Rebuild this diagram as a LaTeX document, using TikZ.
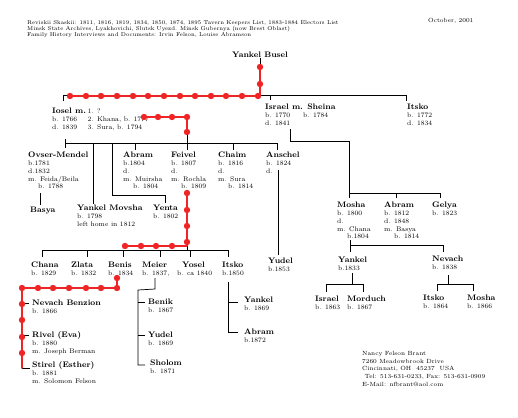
\documentclass[tikz,border=0pt]{standalone}
\usepackage{tikz}
\definecolor{redpath}{RGB}{240,36,36}
\newcommand{\ptopstrut}{\rule{0pt}{6.5pt}}
\newcommand{\pname}[1]{\ptopstrut{\fontsize{8}{7.8}\selectfont\bfseries #1}}
\newcommand{\ind}{\hspace*{10pt}}
\begin{document}
\begin{tikzpicture}[x=1pt,y=-1pt,
  person/.style={anchor=north west, inner sep=0pt, align=left, font=\fontsize{6.7}{7.8}\selectfont},
  small/.style={anchor=north west, inner sep=0pt, align=left, font=\fontsize{6}{6.1}\selectfont},
  tree/.style={line width=0.7pt, black},
  redline/.style={line width=1.6pt, redpath, line cap=round, line join=round},
]
\useasboundingbox (0,0) rectangle (518,417);
\fill[white] (0,0) rectangle (518,417);

% header
\node[small, font=\fontsize{5.6}{6.1}\selectfont] (hdr) at (27,19) {\rule{0pt}{5pt}Reviskii Skaskii: 1811, 1816, 1819, 1834, 1850, 1874, 1895 Tavern Keepers List, 1883-1884 Electors List\\
Minsk State Archives, Lyakhovichi, Slutsk Uyezd. Minsk Gubernya (now Brest Oblast)\\
Family History Interviews and Documents: Irvin Felson, Louise Abramson};
\node[small] (date) at (428,17) {\rule{0pt}{5pt}October, 2001};
\node[small, font=\fontsize{6}{7.8}\selectfont] (addr) at (362,350) {\rule{0pt}{5pt}Nancy Felson Brant\\
7260 Meadowbrook Drive\\
Cincinnati, OH\ \ 45237\ \ USA\\
\ Tel: 513-631-0233, Fax: 513-631-0909\\
E-Mail: nfbrant@aol.com};

% generation 1
\node[person, anchor=north] (busel) at (260,51) {\pname{Yankel Busel}};

% generation 2
\node[person] (iosel) at (52,107) {\pname{Iosel m.}\\ b. 1766\\ d. 1839};
\node[person] (ioselw) at (87.5,107) {\ptopstrut 1. ?\\ 2. Khana, b. 1777\\ 3. Sura, b. 1794};
\node[person] (israel) at (265,103) {\pname{Israel m. Sheina}\\ b. 1770\\ d. 1841};
\node[person] (sheina) at (303,103) {\ptopstrut\\ b. 1784};
\node[person] (itskoa) at (407,103) {\pname{Itsko}\\ b. 1772\\ d. 1834};

% generation 3
\node[person] (ovser) at (28,151) {\pname{Ovser-Mendel}\\ b.1781\\ d.1832\\ m. Feida/Beila\\ \ind b. 1788};
\node[person] (basya) at (30,206) {\pname{Basya}};
\node[person] (yankelm) at (77,204) {\pname{Yankel Movsha}\\ b. 1798\\ left home in 1812};
\node[person] (yenta) at (153,204) {\pname{Yenta}\\ b. 1802};
\node[person] (abrama) at (123,151) {\pname{Abram}\\ b.1804\\ d.\\ m. Muirsha\\ \ind b. 1804};
\node[person] (feivel) at (171,151) {\pname{Feivel}\\ b. 1807\\ d.\\ m. Rochla\\ \ind b. 1809};
\node[person] (chaim) at (218,151) {\pname{Chaim}\\ b. 1816\\ d.\\ m. Sura\\ \ind b. 1814};
\node[person] (anschel) at (266,151) {\pname{Anschel}\\ b. 1824\\ d.};
\node[person] (moshaa) at (337,201) {\pname{Mosha}\\ b. 1800\\ d.\\ m. Chana\\ \ind b.1804};
\node[person] (abramb) at (384,201) {\pname{Abram}\\ b. 1812\\ d. 1848\\ m. Basya\\ \ind b. 1814};
\node[person] (gelya) at (432,201) {\pname{Gelya}\\ b. 1823};

% generation 4
\node[person] (chana) at (31,261) {\pname{Chana}\\ b. 1829};
\node[person] (zlata) at (71,261) {\pname{Zlata}\\ b. 1832};
\node[person] (benis) at (108,261) {\pname{Benis}\\ b. 1834};
\node[person] (meier) at (142,261) {\pname{Meier}\\ b. 1837,};
\node[person] (yosel) at (177,261) {\hspace*{5pt}\pname{Yosel}\\ b. ca 1840};
\node[person] (itskob) at (222,261) {\pname{Itsko}\\ b.1850};
\node[person] (yudela) at (268,257) {\pname{Yudel}\\ b.1853};
\node[person] (yankelb) at (338,256) {\pname{Yankel}\\ b.1833};
\node[person] (nevacha) at (432,255) {\pname{Nevach}\\ b. 1838};

% generation 5
\node[person] (israelb) at (315,295) {\pname{Israel}\\ b. 1863};
\node[person] (morduch) at (347,295) {\pname{Morduch}\\ b. 1867};
\node[person] (itskoc) at (423,294) {\pname{Itsko}\\ b. 1864};
\node[person] (moshab) at (467,294) {\pname{Mosha}\\ b. 1866};
\node[person] (nevachb) at (32,299) {\pname{Nevach Benzion}\\ b. 1866};
\node[person] (rivel) at (32,331) {\pname{Rivel (Eva)}\\ b. 1880\\ m. Joseph Berman};
\node[person] (stirel) at (32,361) {\pname{Stirel (Esther)}\\ b. 1881\\ m. Solomon Felson};
\node[person] (benik) at (148,298) {\pname{Benik}\\ b. 1867};
\node[person] (yudelb) at (148,331) {\pname{Yudel}\\ b. 1869};
\node[person] (sholom) at (150,359) {\pname{Sholom}\\ b. 1871};
\node[person] (yankelc) at (244,296) {\pname{Yankel}\\ b. 1869};
\node[person] (abramc) at (244,328) {\pname{Abram}\\ b.1872};

% black tree lines
\draw[tree] (260,58) -- (260,95);
\draw[tree] (63,101) -- (63,95) -- (406,95) -- (406,101);
\draw[tree] (270,95) -- (270,100);
\draw[tree] (143,117) -- (187,117) -- (187,143);
\draw[tree] (65,139) -- (65,148);
\draw[tree] (65,143) -- (277,143) -- (277,150);
\draw[tree] (93,143) -- (93,204);
\draw[tree] (112,143) -- (112,195) -- (165,195) -- (165,203);
\foreach \x in {135,187,233} \draw[tree] (\x,143) -- (\x,150);
\draw[tree] (40,193) -- (40,205);
\draw[tree] (278,170) -- (278,255);
\draw[tree] (290,129) -- (290,141) -- (349,141) -- (349,198);
\draw[tree] (349,193) -- (440,193) -- (440,198);
\draw[tree] (396,193) -- (396,198);
\draw[tree] (350,240) -- (350,252);
\draw[tree] (350,245) -- (443,245) -- (443,252);
\draw[tree] (352,273) -- (352,284);
\draw[tree] (326,292) -- (326,284) -- (363,284) -- (363,292);
\draw[tree] (448,275) -- (448,284);
\draw[tree] (437,291) -- (437,284) -- (473,284) -- (473,291);
\draw[tree] (187,190) -- (187,250);
\draw[tree] (42,257) -- (42,250) -- (228,250) -- (228,257);
\foreach \x in {87,123,160,190} \draw[tree] (\x,250) -- (\x,257);
\draw[tree] (117,278) -- (117,288) -- (22,288) -- (22,368) -- (30,368);
\draw[tree] (22,303) -- (29,303);
\draw[tree] (22,335) -- (29,335);
\draw[tree] (155,278) -- (155,289) -- (138,290) -- (138,365) -- (145,365);
\draw[tree] (138,302) -- (145,302);
\draw[tree] (138,335) -- (145,335);
\draw[tree] (228,282) -- (228,332) -- (238,332);
\draw[tree] (228,302) -- (238,302);

% red line of descent
\draw[redline] (260,67) -- (260,96) -- (70,96);
\draw[redline] (143,117) -- (187,117) -- (187,132);
\draw[redline] (187,193) -- (187,246) -- (125,246);
\draw[redline] (117,278) -- (117,288) -- (22,288) -- (22,368);
\foreach \p in {(260,67),(260,84),(187,132),(187,193),(187,210),(187,226),(187,242),(117,278),(22,304),(22,320),(22,337),(22,353)}
  \fill[redpath] \p circle (3.2pt);
\foreach \x in {70,86,101,117,133,148,164,180,195,211,226,242,258}
  \fill[redpath] (\x,96) circle (3.2pt);
\foreach \x in {144,158,172,187}
  \fill[redpath] (\x,117) circle (3.2pt);
\foreach \x in {125,141,156,172}
  \fill[redpath] (\x,246) circle (3.2pt);
\foreach \x in {22,38,53,69,86,101,117}
  \fill[redpath] (\x,288) circle (3.2pt);
\end{tikzpicture}
\end{document}
